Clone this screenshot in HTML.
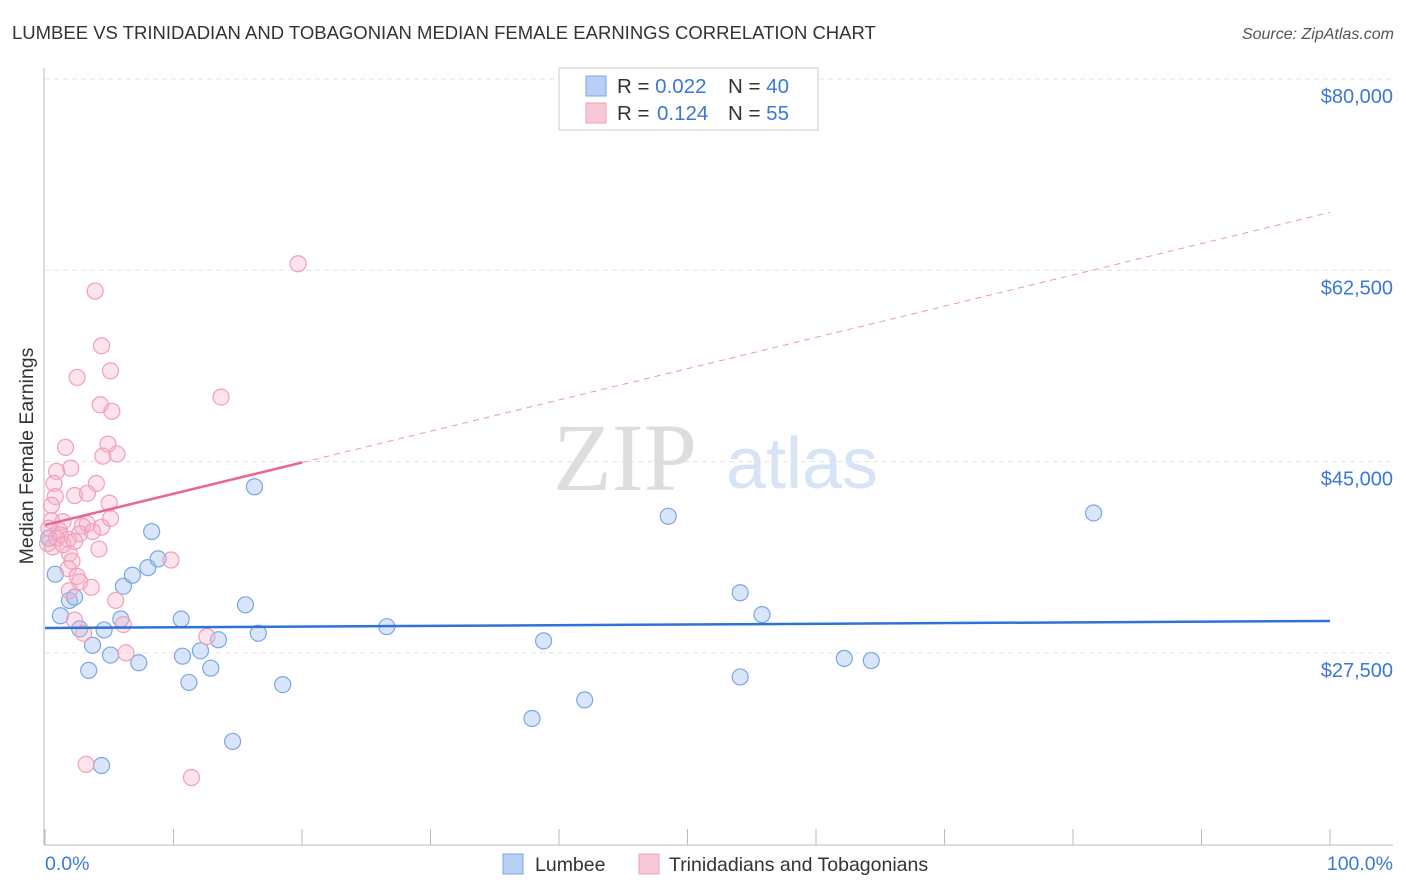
<!DOCTYPE html>
<html><head><meta charset="utf-8">
<style>
body{margin:0;background:#fff;font-family:"Liberation Sans",sans-serif;}
svg{display:block}
</style></head>
<body>
<svg width="1406" height="892" xmlns="http://www.w3.org/2000/svg">
<text x="12" y="39" font-size="18.5" fill="#333">LUMBEE VS TRINIDADIAN AND TOBAGONIAN MEDIAN FEMALE EARNINGS CORRELATION CHART</text>
<text x="1394" y="39" font-size="16" fill="#555" text-anchor="end" font-style="italic">Source: ZipAtlas.com</text>
<g id="grid"></g>
<g>
<text x="625" y="490" font-size="96" fill="#ddd" text-anchor="middle" font-family="Liberation Serif,serif">ZIP</text>
<text x="802" y="488" font-size="72" fill="#d6e4f5" text-anchor="middle">atlas</text>
</g>
<g id="axes"></g>
<g id="pts"></g>
<g id="lines"></g>
<text x="33" y="456" font-size="19.5" fill="#333" text-anchor="middle" transform="rotate(-90 33 456)">Median Female Earnings</text>
<text x="45" y="870" font-size="19.5" fill="#3a78d8">0.0%</text>
<text x="1393" y="870" font-size="19.5" fill="#3a78d8" text-anchor="end">100.0%</text>
<g>
<rect x="559" y="68" width="259" height="62" fill="#fff" stroke="#ccc"/>
<rect x="586" y="76" width="20" height="20" fill="#b8d0f4" stroke="#7aa6e6"/>
<rect x="586" y="103" width="20" height="20" fill="#f9c8d6" stroke="#f0a0b8"/>
<text x="617" y="93" font-size="20.5" fill="#333">R = <tspan fill="#3a78d8">0.022</tspan><tspan x="728">N = </tspan><tspan fill="#3a78d8">40</tspan></text>
<text x="617" y="120" font-size="20.5" fill="#333">R = <tspan fill="#3a78d8" x="657">0.124</tspan><tspan x="728">N = </tspan><tspan fill="#3a78d8">55</tspan></text>
</g>
<g>
<rect x="503" y="854" width="20" height="20" fill="#b8d0f4" stroke="#7aa6e6"/>
<text x="535" y="871" font-size="19.5" fill="#333">Lumbee</text>
<rect x="639" y="854" width="20" height="20" fill="#f9c8d6" stroke="#f0a0b8"/>
<text x="669" y="871" font-size="19.5" fill="#333">Trinidadians and Tobagonians</text>
</g>
</svg>
<script>
const yTicks=[80000,62500,45000,27500];
const yTickLabels=["$80,000","$62,500","$45,000","$27,500"];
const blueX=[0.8,1.2,1.9,2.3,2.7,3.4,3.7,4.4,4.6,5.1,6.1,5.9,6.8,7.3,8.0,8.3,8.8,10.6,10.7,11.2,12.1,12.9,13.5,14.6,15.6,16.3,16.6,18.5,26.6,37.9,38.8,42.0,48.5,54.1,54.1,55.8,62.2,64.3,81.6,0.3];
const blueY=[34700,30900,32300,32600,29700,25900,28200,17200,29600,27300,33600,30600,34600,26600,35300,38600,36100,30600,27200,24800,27700,26100,28700,19400,31900,42700,29300,24600,29900,21500,28600,23200,40000,33000,25300,31000,27000,26800,40300,38000];
const pinkX=[19.7,3.9,4.4,5.1,2.5,13.7,4.3,5.2,1.6,4.9,4.5,5.6,2.0,0.9,0.7,4.0,0.8,2.3,3.3,5.0,0.5,1.4,3.3,4.4,2.9,1.1,0.3,1.2,1.8,2.7,3.7,0.2,0.6,1.9,4.2,2.1,1.8,9.8,2.5,2.7,3.6,1.9,5.5,2.3,6.1,3.0,12.6,6.3,3.2,11.4,0.9,1.4,0.5,5.1,2.3];
const pinkY=[63100,60600,55600,53300,52700,50900,50200,49600,46300,46600,45500,45700,44400,44100,43000,43000,41800,41900,42100,41200,39600,39500,39300,39000,39100,38700,38900,38300,37900,38400,38600,37500,37200,36600,37000,35900,35200,36000,34500,34000,33500,33200,32300,30500,30100,29300,29000,27500,17300,16100,38000,37400,41000,39800,37700];
const blueTrend=[29780,6.4];
const pinkTrend=[39200,286];
const pinkSolidEnd=[20];
const X=v=>45+v/100*1285;
const Y=v=>79+(80000-v)/17500*191.3;
const NS="http://www.w3.org/2000/svg";
function mk(t,a,p){const e=document.createElementNS(NS,t);for(const k in a)e.setAttribute(k,a[k]);p.appendChild(e);return e;}
const grid=document.getElementById('grid'),axes=document.getElementById('axes'),pts=document.getElementById('pts'),lines=document.getElementById('lines');
yTicks.forEach((v,i)=>{
 const l=mk('line',{x1:45,x2:1393,y1:Y(v),y2:Y(v),stroke:'#e2e2e2','stroke-dasharray':'5,4'},grid);
 
 
 const t=mk('text',{x:1393,y:Y(v)+24,'font-size':20,fill:'#3a78d8','text-anchor':'end'},grid);
 t.textContent=yTickLabels[i];
 
 
});
mk('line',{x1:44,x2:44,y1:68,y2:845,stroke:'#bbb'},axes);
mk('line',{x1:44,x2:1393,y1:845,y2:845,stroke:'#bbb'},axes);
for(let i=0;i<=10;i++){const t=mk('line',{x1:X(i*10),x2:X(i*10),y1:829,y2:845,stroke:'#bbb'},axes);
 
 }
blueX.forEach((x,i)=>{const c=mk('circle',{cx:X(x),cy:Y(blueY[i]),r:8,fill:'rgba(160,192,240,0.4)',stroke:'#7aa6e6','stroke-width':1.2},pts);
 
 });
pinkX.forEach((x,i)=>{const c=mk('circle',{cx:X(x),cy:Y(pinkY[i]),r:8,fill:'rgba(245,175,200,0.35)',stroke:'#f0a0b8','stroke-width':1.2},pts);
 
 });
const bt=x=>blueTrend[0]+blueTrend[1]*x, pt=x=>pinkTrend[0]+pinkTrend[1]*x;
const bl=mk('line',{x1:X(0),y1:Y(bt(0)),x2:X(100),y2:Y(bt(100)),stroke:'#2f72d6','stroke-width':2.5},lines);


const pe=pinkSolidEnd[0];
const pl=mk('line',{x1:X(0),y1:Y(pt(0)),x2:X(pe),y2:Y(pt(pe)),stroke:'#e86890','stroke-width':2.5},lines);


const pd=mk('line',{x1:X(pe),y1:Y(pt(pe)),x2:X(100),y2:Y(pt(100)),stroke:'#e89ab2','stroke-width':1,'stroke-dasharray':'6,5'},lines);


</script>
</body></html>
